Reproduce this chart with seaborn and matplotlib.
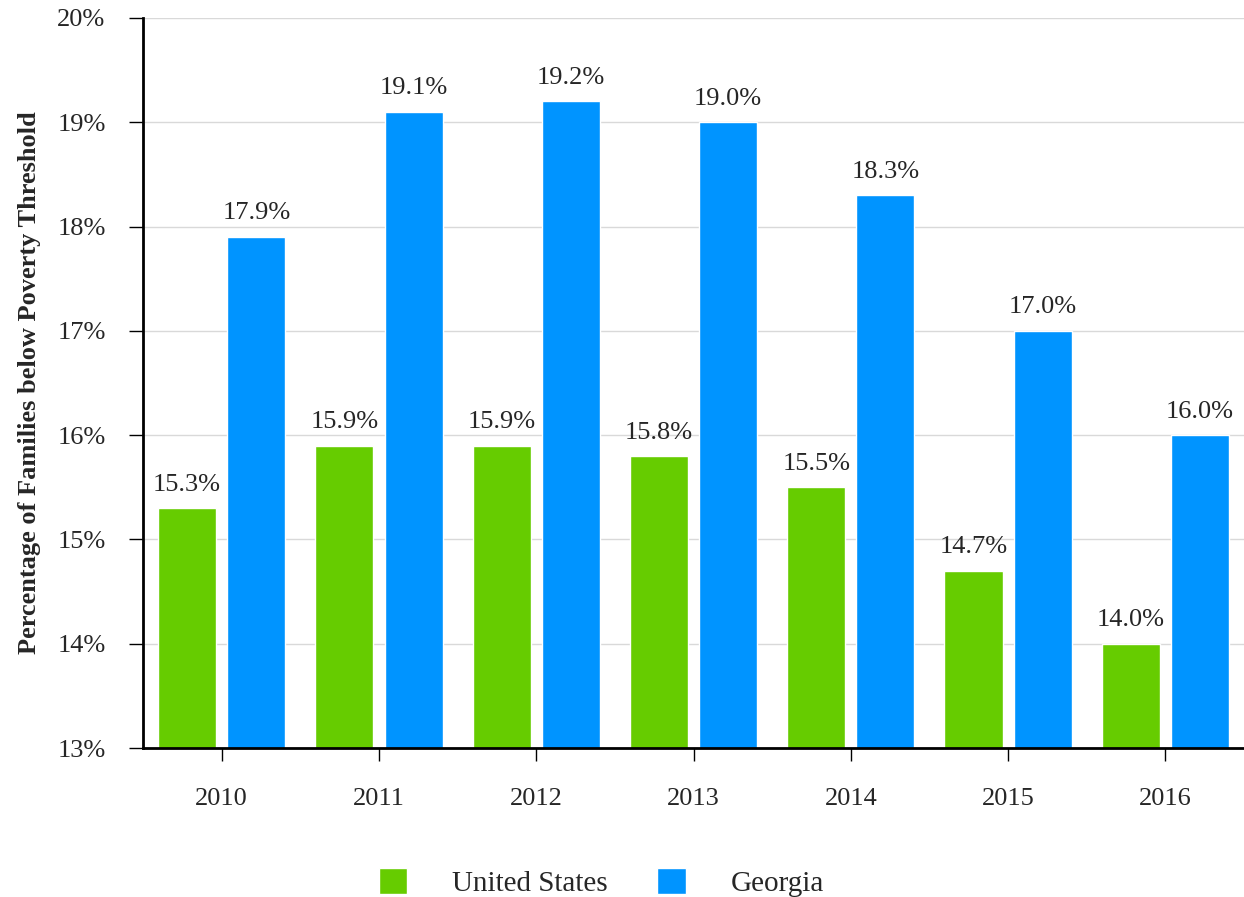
"""
Families below poverty threshold: United States vs Georgia
"""

import matplotlib
matplotlib.use("Agg")
import matplotlib.pyplot as plt
import pandas as pd
import seaborn as sns

years = ["2010", "2011", "2012", "2013", "2014", "2015", "2016"]
united_states = [15.3, 15.9, 15.9, 15.8, 15.5, 14.7, 14.0]
georgia = [17.9, 19.1, 19.2, 19.0, 18.3, 17.0, 16.0]
series_names = ["United States", "Georgia"]
y_ticks = [13, 14, 15, 16, 17, 18, 19, 20]

df = pd.DataFrame({
    "year": years * 2,
    "value": united_states + georgia,
    "series": [series_names[0]] * len(years) + [series_names[1]] * len(years),
})

sns.set_style("white")
plt.rcParams["font.family"] = ["Liberation Serif", "DejaVu Serif"]

fig = plt.figure(figsize=(12.44, 8.97), dpi=100)
ax = fig.add_axes([0.115, 0.166, 0.885, 0.814])

sns.barplot(data=df, x="year", y="value", hue="series",
            palette=["#66cc00", "#0094ff"], width=0.88, gap=0.16,
            saturation=1, ax=ax, legend=True)

for cont in ax.containers:
    ax.bar_label(cont, fmt="%.1f%%", padding=9, fontsize=19)

ax.set_ylim(13, 20)
ax.set_yticks(y_ticks)
ax.set_yticklabels([f"{t}%" for t in y_ticks], fontsize=19)
ax.tick_params(axis="x", labelsize=19, length=9, pad=20)
ax.tick_params(axis="y", length=10, pad=17)
ax.tick_params(axis="both", direction="out", width=1, color="black",
               bottom=True, left=True)
ax.yaxis.grid(True, color="#d9d9d9", linewidth=1)
ax.set_axisbelow(True)
ax.set_xlabel("")
ax.set_ylabel("Percentage of Families below Poverty Threshold",
              fontsize=19, fontweight="bold", labelpad=12)

for side in ["top", "right"]:
    ax.spines[side].set_visible(False)
for side in ["left", "bottom"]:
    ax.spines[side].set_color("black")
    ax.spines[side].set_linewidth(2)

handles, labels = ax.get_legend_handles_labels()
ax.legend_.remove()
fig.legend(handles, labels, loc="lower center", bbox_to_anchor=(0.4835, 0.0),
           ncol=2, frameon=False, fontsize=21, handlelength=0.97,
           handleheight=0.95, handletextpad=1.55, columnspacing=1.7,
           borderaxespad=0.0, borderpad=0.0)

fig.savefig("out.png", dpi=100)
plt.close(fig)
